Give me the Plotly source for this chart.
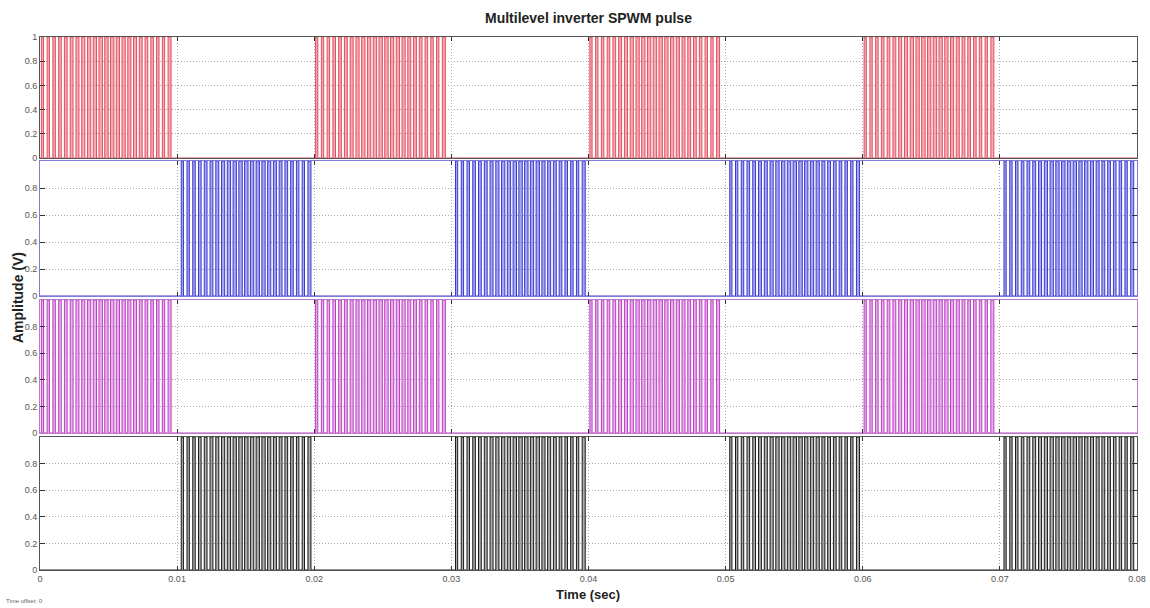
import plotly.graph_objects as go

# ---- data ----
title_text = "Multilevel inverter SPWM pulse"
x_ticks = [0, 0.01, 0.02, 0.03, 0.04, 0.05, 0.06, 0.07, 0.08]
x_tick_labels = ["0", "0.01", "0.02", "0.03", "0.04", "0.05", "0.06", "0.07", "0.08"]
y_ticks = [0, 0.2, 0.4, 0.6, 0.8, 1]
y_tick_labels_top = ["0", "0.2", "0.4", "0.6", "0.8", "1"]
y_tick_labels_lower = ["0", "0.2", "0.4", "0.6", "0.8", ""]

# burst (half-cycle) start times for each of the four gate signals (s)
burst_starts_1 = [0.0000, 0.0200, 0.0400, 0.0600]
burst_starts_2 = [0.0102, 0.0302, 0.0502, 0.0702]
burst_starts_3 = [0.0000, 0.0200, 0.0400, 0.0600]
burst_starts_4 = [0.0102, 0.0302, 0.0502, 0.0702]

# pulse edges within one burst (ms after burst start)
pulse_start_ms = [0.10, 0.52, 0.94, 1.36, 1.78, 2.20, 2.62, 3.04, 3.46, 3.88, 4.30, 4.72,
                  5.14, 5.56, 5.98, 6.40, 6.82, 7.24, 7.66, 8.08, 8.50, 8.92, 9.34]
pulse_width_ms = [0.16, 0.17, 0.18, 0.19, 0.20, 0.21, 0.22, 0.23, 0.24, 0.24, 0.25, 0.25,
                  0.25, 0.24, 0.24, 0.23, 0.22, 0.21, 0.20, 0.19, 0.18, 0.17, 0.22]

x_end = 0.08

line_colors = ["#e0505e", "#3a3ad0", "#b840c0", "#1a1a1a"]
fill_colors = ["rgba(242,140,155,0.75)", "rgba(130,130,235,0.7)",
               "rgba(222,140,228,0.7)", "rgba(130,130,130,0.65)"]
frame_colors = ["#555555", "#7c7cd8", "#c078c8", "#555555"]


def build_wave(starts):
    xs, ys = [0.0], [0.0]
    for b in starts:
        for s, w in zip(pulse_start_ms, pulse_width_ms):
            t0 = b + s / 1000.0
            t1 = t0 + w / 1000.0
            xs += [t0, t0, t1, t1]
            ys += [0, 1, 1, 0]
    xs.append(x_end)
    ys.append(0)
    return xs, ys


all_starts = [burst_starts_1, burst_starts_2, burst_starts_3, burst_starts_4]

H = 608.0
W = 1150.0
y_px = [(37, 158), (161, 296), (300, 433), (437, 570)]
x_dom = [40 / W, 1137 / W]

fig = go.Figure()
for i, starts in enumerate(all_starts):
    xs, ys = build_wave(starts)
    ax = "" if i == 0 else str(i + 1)
    fig.add_trace(go.Scatter(
        x=xs, y=ys, mode="lines", fill="tozeroy",
        fillcolor=fill_colors[i],
        line=dict(color=line_colors[i], width=1),
        xaxis="x" + ax, yaxis="y" + ax, showlegend=False, hoverinfo="skip"))

font_fam = "Liberation Sans, Arial, sans-serif"
tick_font = dict(family=font_fam, size=9, color="#555555")

layout = dict(
    width=1150, height=608,
    margin=dict(l=0, r=0, t=0, b=0, autoexpand=False),
    paper_bgcolor="white", plot_bgcolor="white",
    showlegend=False,
)

for i in range(4):
    ax = "" if i == 0 else str(i + 1)
    top, bot = y_px[i]
    layout["xaxis" + ax] = dict(
        domain=x_dom, range=[0, x_end], anchor="y" + ax, automargin=False,
        tickvals=x_ticks, ticktext=x_tick_labels,
        showticklabels=(i == 3), ticks="inside", ticklen=4,
        tickcolor="#333333", tickfont=tick_font,
        showline=True, mirror="ticks", linecolor=frame_colors[i], linewidth=1,
        showgrid=True, gridcolor="#a8a8a8", griddash="1px,2px", gridwidth=1,
        zeroline=False, fixedrange=True,
    )
    layout["yaxis" + ax] = dict(
        domain=[1 - bot / H, 1 - top / H], range=[0, 1], anchor="x" + ax, automargin=False,
        tickvals=y_ticks,
        ticktext=y_tick_labels_top if i == 0 else y_tick_labels_lower,
        ticks="inside", ticklen=5, tickcolor="#333333", tickfont=tick_font,
        showline=True, mirror="ticks", linecolor=frame_colors[i], linewidth=1,
        showgrid=True, gridcolor="#a8a8a8", griddash="1px,2px", gridwidth=1,
        zeroline=False, fixedrange=True,
    )

layout["annotations"] = [
    dict(text="<b>" + title_text + "</b>", x=588 / W, y=1 - 18 / H, xref="paper", yref="paper",
         xanchor="center", yanchor="middle", showarrow=False,
         font=dict(family=font_fam, size=14, color="#222222")),
    dict(text="<b>Time (sec)</b>", x=588 / W, y=1 - 594 / H, xref="paper", yref="paper",
         xanchor="center", yanchor="middle", showarrow=False,
         font=dict(family=font_fam, size=13, color="#222222")),
    dict(text="<b>Amplitude (V)</b>", x=18 / W, y=1 - 298 / H, xref="paper", yref="paper",
         xanchor="center", yanchor="middle", showarrow=False, textangle=-90,
         font=dict(family=font_fam, size=14, color="#222222")),
    dict(text="Time offset: 0", x=4 / W, y=1 - 601 / H, xref="paper", yref="paper",
         xanchor="left", yanchor="middle", showarrow=False,
         font=dict(family=font_fam, size=6, color="#666666")),
]

fig.update_layout(**layout)
fig.write_html(
    "out.html",
    config={"displayModeBar": False},
    post_script=(
        "document.documentElement.style.margin='0';"
        "document.documentElement.style.padding='0';"
        "document.documentElement.style.overflow='hidden';"
        "document.body.style.margin='0';"
        "document.body.style.padding='0';"
        "document.body.style.overflow='hidden';"
    ),
)
